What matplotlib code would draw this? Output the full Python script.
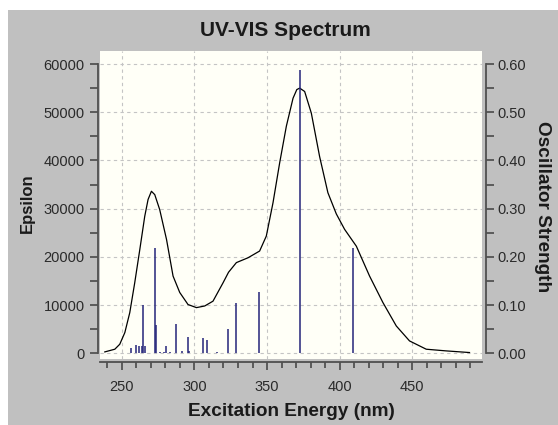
import numpy as np
import matplotlib
matplotlib.use("Agg")
import matplotlib.pyplot as plt
from matplotlib.patches import Rectangle
from matplotlib.ticker import MultipleLocator, FormatStrFormatter

# broadened absorption envelope (nm, epsilon)
wavelength = [238.3, 245.2, 248.6, 252.1, 255.5, 258.9, 262.4, 265.8, 268.1, 270.4,
              272.7, 276.1, 280.8, 285.3, 289.9, 295.6, 301.4, 307.1, 312.8, 319.7,
              323.5, 328.9, 336.9, 344.9, 349.5, 354.1, 358.7, 363.3, 367.9, 370.5,
              372.5, 375.9, 380.5, 386.2, 391.9, 397.7, 403.4, 411.5, 420.6, 429.8,
              439.0, 448.1, 459.6, 473.4, 489.4]
epsilon = [270, 830, 1860, 4280, 8420, 14600, 21500, 28400, 31900, 33600,
           32900, 29800, 23600, 16000, 12600, 10100, 9460, 9800, 10800, 14600,
           16800, 18800, 19800, 21200, 24300, 31200, 39500, 47100, 52900, 54700,
           55000, 54300, 49800, 40800, 33300, 28900, 25700, 22200, 16000, 10500,
           5650, 2550, 830, 480, 140]

# individual excitations (nm, oscillator strength)
exc_nm = [256.3, 259.5, 261.8, 263.7, 264.9, 265.9, 272.9, 273.3, 276.3, 279.0,
          280.5, 283.5, 287.6, 291.3, 295.4, 296.0, 305.9, 309.0, 315.5, 323.0,
          328.9, 344.7, 372.4, 409.0]
osc_strength = [0.011, 0.018, 0.014, 0.015, 0.100, 0.016, 0.218, 0.059, 0.002, 0.003,
                0.016, 0.002, 0.061, 0.005, 0.033, 0.005, 0.031, 0.028, 0.002, 0.051,
                0.104, 0.128, 0.587, 0.218]

plt.rcParams["font.family"] = ["Liberation Sans", "DejaVu Sans"]

W, H = 558, 425
fig = plt.figure(figsize=(W / 100, H / 100), dpi=100)
fig.patch.set_facecolor("white")
fig.patches.append(Rectangle((8 / W, 0), 1 - 8 / W, 1 - 10 / H, transform=fig.transFigure,
                             facecolor="#c0c0c0", edgecolor="none", zorder=-10))

ax = fig.add_axes([100 / W, 1 - 359 / H, 382 / W, 308 / H])
ax.set_facecolor("#fffff7")
ax.set_xlim(235, 498)
ax.set_ylim(-1200, 62700)

ax.grid(True, color="#c4c4c4", linestyle=(0, (3, 3)), linewidth=0.8)
ax.set_axisbelow(True)

ax.plot(wavelength, epsilon, color="black", linewidth=0.9, zorder=3)

ax2 = ax.twinx()
ax2.set_ylim(-0.012, 0.627)
ax2.vlines(exc_nm, 0, osc_strength, color="#25257a", linewidth=1.1, zorder=2)

for a in (ax, ax2):
    for s in a.spines.values():
        s.set_visible(False)

ax.spines["left"].set_visible(True)
ax.spines["left"].set_position(("outward", 1.5))
ax.spines["left"].set_bounds(0, 60000)
ax.spines["bottom"].set_visible(True)
ax.spines["bottom"].set_position(("outward", 2))
ax2.spines["right"].set_visible(True)
ax2.spines["right"].set_position(("outward", 3))
ax2.spines["right"].set_bounds(0, 0.6)
for s in (ax.spines["left"], ax.spines["bottom"], ax2.spines["right"]):
    s.set_color("#505050")
    s.set_linewidth(1.3)

ax.xaxis.set_major_locator(MultipleLocator(50))
ax.set_xticks(np.arange(240, 495, 10), minor=True)
ax.yaxis.set_major_locator(MultipleLocator(10000))
ax.set_yticks(np.arange(0, 60001, 5000), minor=True)
ax2.yaxis.set_major_locator(MultipleLocator(0.1))
ax2.set_yticks(np.arange(0, 0.601, 0.05), minor=True)
ax2.yaxis.set_major_formatter(FormatStrFormatter("%.2f"))

ax.tick_params(axis="both", which="both", colors="#404040", labelcolor="#2a2a2a",
               labelsize=10.5, width=1.1)
ax.tick_params(axis="y", which="both", length=6, pad=3.5)
ax.tick_params(axis="x", which="major", length=6, pad=7)
ax.tick_params(axis="x", which="minor", length=4)
ax2.tick_params(axis="y", which="both", colors="#404040", labelcolor="#2a2a2a",
                labelsize=10.5, width=1.1, length=6, pad=2)

fig.text(285 / W, 1 - 30 / H, "UV-VIS Spectrum", ha="center", va="center",
         fontsize=15, fontweight="bold", color="#1a1a1a")
fig.text(27 / W, 1 - 203 / H, "Epsilon", ha="center", va="center", rotation=90,
         fontsize=12, fontweight="bold", color="#1a1a1a")
fig.text(291 / W, 1 - 411 / H, "Excitation Energy (nm)", ha="center", va="center",
         fontsize=13.7, fontweight="bold", color="#1a1a1a")
fig.text(542 / W, 1 - 207 / H, "Oscillator Strength", ha="center", va="center",
         rotation=-90, fontsize=13.7, fontweight="bold", color="#1a1a1a")

fig.savefig("out.png", dpi=100)
